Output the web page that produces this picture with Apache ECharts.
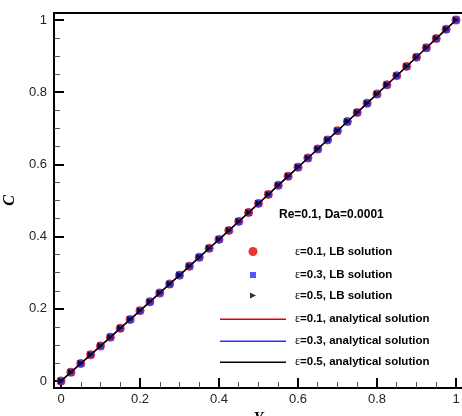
<!DOCTYPE html>
<html>
<head>
<meta charset="utf-8">
<script src="https://cdn.jsdelivr.net/npm/echarts@6/dist/echarts.min.js"></script>
<style>
  html, body { margin: 0; padding: 0; background: #fff; }
  #chart { width: 462px; height: 416px; }
</style>
</head>
<body>
<div id="chart"></div>
<script>
// Dimensionless transverse coordinate Y
var yCoord = [0, 0.025, 0.05, 0.075, 0.1, 0.125, 0.15, 0.175, 0.2, 0.225,
  0.25, 0.275, 0.3, 0.325, 0.35, 0.375, 0.4, 0.425, 0.45, 0.475,
  0.5, 0.525, 0.55, 0.575, 0.6, 0.625, 0.65, 0.675, 0.7, 0.725,
  0.75, 0.775, 0.8, 0.825, 0.85, 0.875, 0.9, 0.925, 0.95, 0.975, 1];

// Concentration profiles C(Y)
var cLB01 = [0, 0.0242, 0.0485, 0.0728, 0.0971, 0.1214, 0.1459, 0.1703, 0.1948, 0.2193,
  0.2439, 0.2685, 0.2932, 0.3179, 0.3426, 0.3674, 0.3922, 0.4171, 0.4420, 0.4669,
  0.4919, 0.5169, 0.5420, 0.5671, 0.5922, 0.6174, 0.6426, 0.6679, 0.6932, 0.7185,
  0.7439, 0.7693, 0.7948, 0.8203, 0.8459, 0.8714, 0.8971, 0.9228, 0.9485, 0.9742, 1];
var cLB03 = [0, 0.0242, 0.0485, 0.0728, 0.0971, 0.1214, 0.1459, 0.1703, 0.1948, 0.2193,
  0.2439, 0.2685, 0.2932, 0.3179, 0.3426, 0.3674, 0.3922, 0.4171, 0.4420, 0.4669,
  0.4919, 0.5169, 0.5420, 0.5671, 0.5922, 0.6174, 0.6426, 0.6679, 0.6932, 0.7185,
  0.7439, 0.7693, 0.7948, 0.8203, 0.8459, 0.8714, 0.8971, 0.9228, 0.9485, 0.9742, 1];
var cLB05 = [0, 0.0242, 0.0485, 0.0728, 0.0971, 0.1214, 0.1459, 0.1703, 0.1948, 0.2193,
  0.2439, 0.2685, 0.2932, 0.3179, 0.3426, 0.3674, 0.3922, 0.4171, 0.4420, 0.4669,
  0.4919, 0.5169, 0.5420, 0.5671, 0.5922, 0.6174, 0.6426, 0.6679, 0.6932, 0.7185,
  0.7439, 0.7693, 0.7948, 0.8203, 0.8459, 0.8714, 0.8971, 0.9228, 0.9485, 0.9742, 1];
var cExact = [0, 0.0242, 0.0485, 0.0728, 0.0971, 0.1214, 0.1459, 0.1703, 0.1948, 0.2193,
  0.2439, 0.2685, 0.2932, 0.3179, 0.3426, 0.3674, 0.3922, 0.4171, 0.4420, 0.4669,
  0.4919, 0.5169, 0.5420, 0.5671, 0.5922, 0.6174, 0.6426, 0.6679, 0.6932, 0.7185,
  0.7439, 0.7693, 0.7948, 0.8203, 0.8459, 0.8714, 0.8971, 0.9228, 0.9485, 0.9742, 1];

// Tick positions shared by both axes
var majorTicks = [0, 0.2, 0.4, 0.6, 0.8, 1];
var minorTicks = [0.05, 0.1, 0.15, 0.25, 0.3, 0.35, 0.45, 0.5, 0.55,
  0.65, 0.7, 0.75, 0.85, 0.9, 0.95];

var seriesNames = [
  'ε=0.1, LB solution',
  'ε=0.3, LB solution',
  'ε=0.5, LB solution',
  'ε=0.1, analytical solution',
  'ε=0.3, analytical solution',
  'ε=0.5, analytical solution'
];
var caseTitle = 'Re=0.1, Da=0.0001';
var xTitle = 'Y';
var yTitle = 'C';

function pairs(xs, ys) {
  return xs.map(function (x, i) { return [x, ys[i]]; });
}

var RED = '#e60000', BLUE = '#2233ff', BLACK = '#000000';
var TRI = 'path://M0,0L10,5L0,10Z';

// the frame sits a few pixels outside the 0..1 data range on every side
var X_PAD = 7 / 395, Y_PAD = 7 / 361;

var tickFont = { fontFamily: 'Liberation Sans, Arial, sans-serif', fontSize: 13, color: '#222' };
var titleFont = { fontFamily: 'Liberation Serif, Times New Roman, serif', fontStyle: 'italic', fontWeight: 'bold', fontSize: 16, color: '#000' };

// one legend block per row so each icon keeps its own size
var legendRows = [
  { name: seriesNames[0], icon: 'circle', w: 9, h: 9, cx: 253, cy: 250 },
  { name: seriesNames[1], icon: 'rect', w: 6, h: 6, cx: 253, cy: 272 },
  { name: seriesNames[2], icon: TRI, w: 6, h: 7, cx: 253, cy: 293 },
  { name: seriesNames[3], icon: 'rect', w: 66, h: 1.4, cx: 253, cy: 314 },
  { name: seriesNames[4], icon: 'rect', w: 66, h: 1.4, cx: 253, cy: 336 },
  { name: seriesNames[5], icon: 'rect', w: 66, h: 1.4, cx: 253, cy: 357 }
];
var TEXT_X = 295;
var legends = legendRows.map(function (r) {
  var left = r.cx - r.w / 2;
  return {
    data: [{ name: r.name, icon: r.icon }],
    left: left,
    top: r.cy - r.h / 2,
    padding: 0,
    itemWidth: r.w,
    itemHeight: r.h,
    selectedMode: false,
    formatter: function (n) { return '{e|ε}{t|' + n.slice(1) + '}'; },
    textStyle: {
      padding: [0, 0, 0, TEXT_X - (left + r.w + 5)],
      rich: {
        e: { fontFamily: 'Liberation Serif, serif', fontSize: 12, color: '#000' },
        t: { fontFamily: 'Liberation Sans, Arial, sans-serif', fontWeight: 'bold', fontSize: 11.5, color: '#000' }
      }
    }
  };
});

function mainAxis(isX) {
  var pad = isX ? X_PAD : Y_PAD;
  return {
    type: 'value', gridIndex: 0, min: -pad, max: 1 + pad,
    position: isX ? 'bottom' : 'left',
    name: isX ? xTitle : yTitle, nameLocation: 'middle',
    nameRotate: isX ? 0 : 90, nameGap: isX ? 20 : 28, nameTextStyle: titleFont,
    axisLine: { show: false, onZero: false },
    axisTick: { show: true, inside: true, length: 10, customValues: majorTicks, lineStyle: { color: '#000', width: 2 } },
    axisLabel: Object.assign({ margin: isX ? 5 : 7, customValues: majorTicks }, tickFont),
    splitLine: { show: false }
  };
}
function minorAxis(isX) {
  var pad = isX ? X_PAD : Y_PAD;
  return {
    type: 'value', gridIndex: 0, min: -pad, max: 1 + pad,
    position: isX ? 'bottom' : 'left',
    axisLine: { show: false, onZero: false },
    axisTick: { show: true, inside: true, length: 6, customValues: minorTicks, lineStyle: { color: '#555', width: 1 } },
    axisLabel: { show: false },
    splitLine: { show: false }
  };
}

var chart = echarts.init(document.getElementById('chart'), null, { renderer: 'canvas' });
chart.setOption({
  animation: false,
  backgroundColor: '#fff',
  title: {
    text: caseTitle,
    left: 279, top: 209, padding: 0,
    textStyle: { fontFamily: 'Liberation Sans, Arial, sans-serif', fontWeight: 'bold', fontSize: 12, color: '#000' }
  },
  legend: legends,
  grid: {
    left: 54, right: -1, top: 13, bottom: 28, containLabel: false, outerBoundsMode: 'none',
    show: true, borderColor: '#000', borderWidth: 2, backgroundColor: 'transparent'
  },
  xAxis: [mainAxis(true), minorAxis(true)],
  yAxis: [mainAxis(false), minorAxis(false)],
  series: [
    { name: seriesNames[0], type: 'scatter', data: pairs(yCoord, cLB01), symbol: 'circle', symbolSize: 9, itemStyle: { color: RED }, z: 2 },
    { name: seriesNames[1], type: 'scatter', data: pairs(yCoord, cLB03), symbol: 'rect', symbolSize: 7, itemStyle: { color: BLUE }, z: 3 },
    { name: seriesNames[2], type: 'scatter', data: pairs(yCoord, cLB05), symbol: TRI, symbolSize: [6, 7], itemStyle: { color: BLACK }, z: 4 },
    { name: seriesNames[3], type: 'line', data: pairs(yCoord, cExact), symbol: 'none', lineStyle: { color: RED, width: 1.3 }, itemStyle: { color: RED }, z: 5 },
    { name: seriesNames[4], type: 'line', data: pairs(yCoord, cExact), symbol: 'none', lineStyle: { color: BLUE, width: 1.3 }, itemStyle: { color: BLUE }, z: 6 },
    { name: seriesNames[5], type: 'line', data: pairs(yCoord, cExact), symbol: 'none', lineStyle: { color: BLACK, width: 1.3 }, itemStyle: { color: BLACK }, z: 7 }
  ]
});
</script>
</body>
</html>
